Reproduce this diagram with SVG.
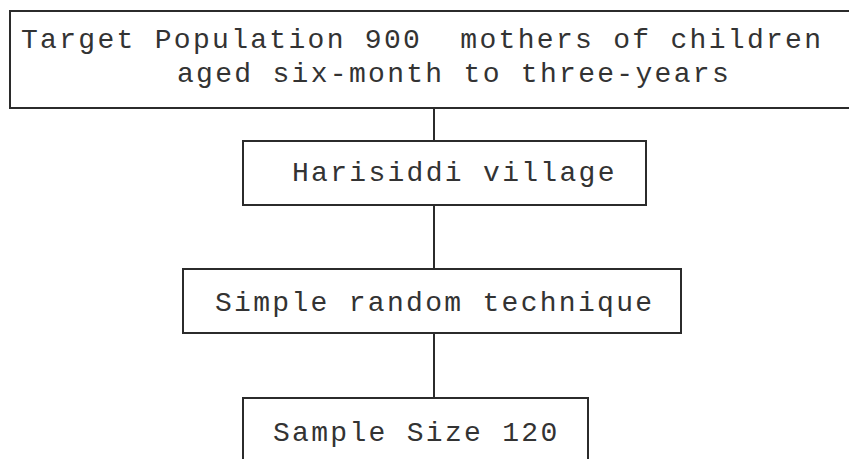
<svg xmlns="http://www.w3.org/2000/svg" width="849" height="459" viewBox="0 0 849 459">
  <style>
    .box { fill: #ffffff; stroke: #2b2b2b; stroke-width: 2; }
    .link { stroke: #2b2b2b; stroke-width: 2; fill: none; }
    .label { font-family: "Liberation Mono", "Courier New", monospace; font-size: 28px; fill: #333333; letter-spacing: 2.3px; white-space: pre; }
  </style>
  <rect width="849" height="459" fill="#ffffff"/>

  <!-- connectors between the stages -->
  <g id="connectors">
    <line class="link" x1="434" y1="108" x2="434" y2="141"/>
    <line class="link" x1="434" y1="205" x2="434" y2="269"/>
    <line class="link" x1="434" y1="333" x2="434" y2="398"/>
  </g>

  <g id="target-population">
    <rect class="box" x="10" y="11" width="850" height="97"/>
    <text class="label" x="21" y="48" xml:space="preserve">Target Population 900  mothers of children</text>
    <text class="label" x="177" y="82">aged six-month to three-years</text>
  </g>

  <g id="village">
    <rect class="box" x="243" y="141" width="403" height="64"/>
    <text class="label" x="292" y="181">Harisiddi village</text>
  </g>

  <g id="technique">
    <rect class="box" x="183" y="269" width="498" height="64"/>
    <text class="label" x="215" y="311">Simple random technique</text>
  </g>

  <g id="sample-size">
    <rect class="box" x="243" y="398" width="345" height="80"/>
    <text class="label" x="273" y="441">Sample Size 120</text>
  </g>
</svg>
